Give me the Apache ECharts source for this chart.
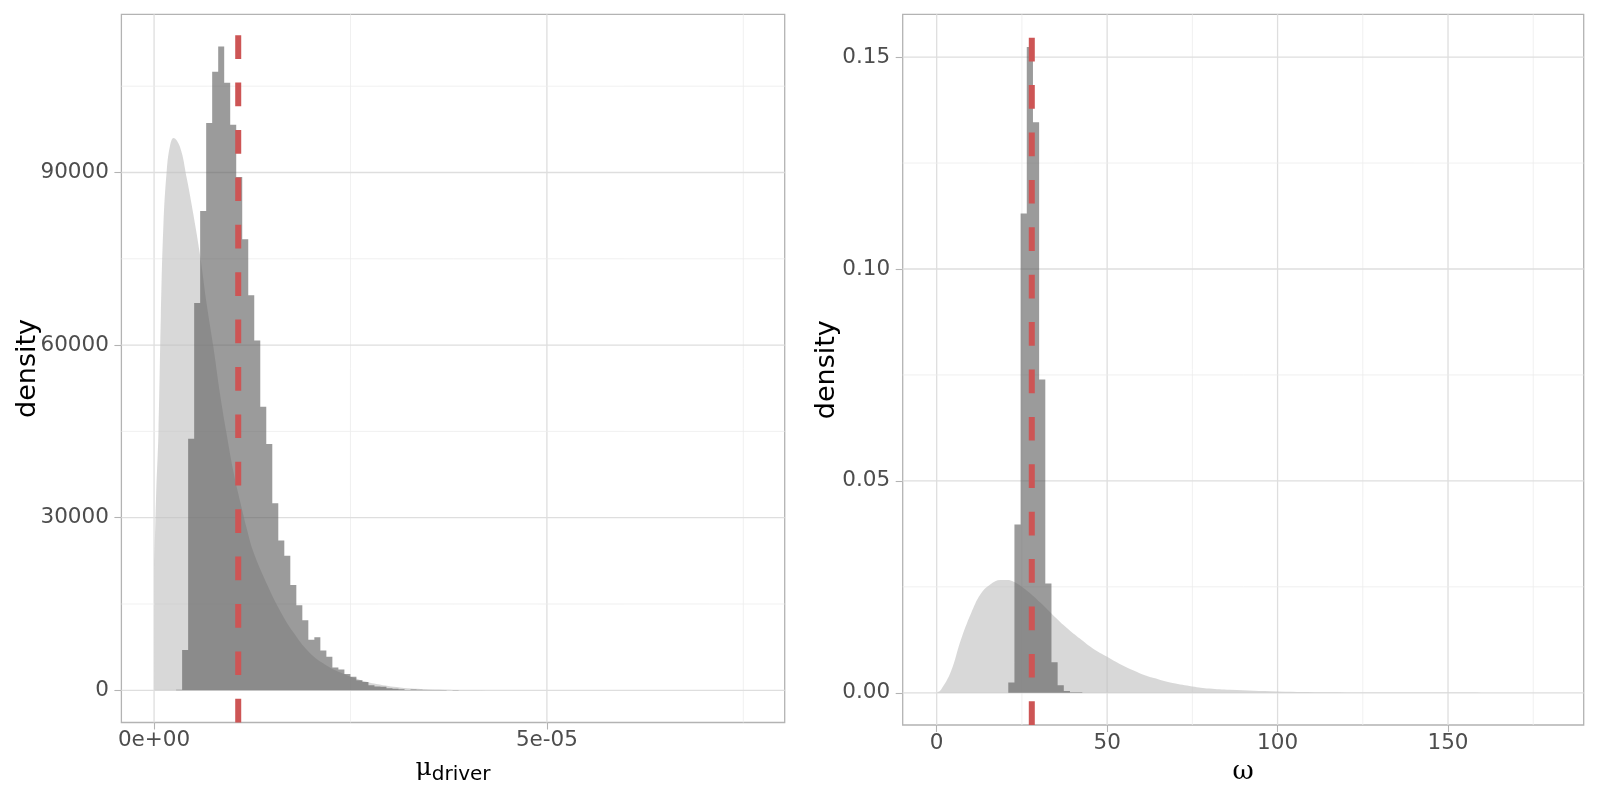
<!DOCTYPE html>
<html>
<head>
<meta charset="utf-8">
<title>posterior vs prior</title>
<script src="https://cdn.jsdelivr.net/npm/echarts@6/dist/echarts.min.js"></script>
<style>
  html, body { margin: 0; padding: 0; background: #fff; }
  #chart { width: 1600px; height: 800px; }
</style>
</head>
<body>
<div id="chart"></div>
<script>
// ---- data ----
// mu_driver: posterior histogram (density scale), regular bins
var muBinStart = 2.805e-6;
var muBinWidth = 0.765e-6;
var muHist = [100, 7000, 43700, 67300, 83300, 98600, 107500, 111900, 105600, 98300,
  89200, 78400, 68650, 60800, 49280, 42800, 32500, 26020, 23370, 18300,
  14800, 12180, 8800, 9200, 6930, 5820, 3950, 3600, 2830, 2370,
  1730, 1420, 890, 660, 610, 370, 250, 200, 70, 120,
  80, 60, 50, 30, 40, 20, 30, 10];
// mu_driver: prior density curve
var muPriorX = [0.04e-6, 0.26e-6, 0.56e-6, 0.86e-6, 1.19e-6, 1.61e-6, 2.01e-6, 2.47e-6, 3.31e-6, 4.16e-6,
  5.03e-6, 5.87e-6, 6.71e-6, 7.57e-6, 8.42e-6, 9.27e-6, 10.12e-6, 10.96e-6, 11.82e-6, 12.66e-6,
  14.42e-6, 15.97e-6, 17.66e-6, 19.74e-6, 21.95e-6, 24.03e-6, 26.23e-6, 28.31e-6, 31.3e-6, 34.94e-6,
  40.13e-6, 47.92e-6, 58.31e-6, 76.1e-6];
var muPriorY = [21600, 34000, 45000, 65000, 81000, 90300, 94500, 96000, 94400, 89000,
  82500, 75500, 67000, 59500, 51300, 44300, 37900, 32800, 28000, 24000,
  18300, 14000, 10200, 6600, 4300, 2900, 1800, 1100, 500, 200,
  60, 12, 3, 0];
var muTruth = 10.71e-6;
var muXMajor = [0, 5e-5];
var muXMinor = [2.5e-5, 7.5e-5];
var muYMajor = [0, 30000, 60000, 90000];
var muYMinor = [15000, 45000, 75000, 105000];

// omega: posterior histogram
var omegaBinStart = 21.0;
var omegaBinWidth = 1.81;
var omegaHist = [0.0024, 0.0397, 0.1131, 0.1524, 0.1346, 0.0739, 0.0258, 0.0072, 0.0018, 0.0004, 0.0001, 0.0001];
// omega: prior density curve
var omegaPriorX = [0, 1.26, 4.17, 7.1, 10.0, 12.9, 15.8, 18.7, 20.7, 22.6,
  26.5, 30.4, 34.3, 38.2, 42.0, 45.9, 50, 53.7, 57.6, 61.5,
  65.4, 69.2, 75, 80, 86, 100, 115, 135, 160, 180];
var omegaPriorY = [0, 0.0007, 0.0050, 0.0125, 0.0186, 0.0233, 0.0256, 0.0266, 0.0266, 0.0262,
  0.0241, 0.0213, 0.0182, 0.0153, 0.0128, 0.0104, 0.0085, 0.0068, 0.0053, 0.0040,
  0.0031, 0.0023, 0.0015, 0.0010, 0.0007, 0.0003, 0.00012, 0.00004, 0.00001, 0];
var omegaTruth = 27.9;
var omegaXMajor = [0, 50, 100, 150];
var omegaXMinor = [25, 75, 125, 175];
var omegaYMajor = [0, 0.05, 0.10, 0.15];
var omegaYMinor = [0.025, 0.075, 0.125];

// ---- helpers ----
var FONT = 'DejaVu Sans';
var TXT = '#4D4D4D';

function sci(v) {
  // R style: 0e+00, 5e-05
  var parts = v.toExponential(0).split('e');
  var e = parseInt(parts[1], 10);
  var s = e < 0 ? '-' : '+';
  var a = Math.abs(e);
  return parts[0] + 'e' + s + (a < 10 ? '0' + a : a);
}

function gridLines(idx, xMaj, xMin, yMaj, yMin) {
  var data = [];
  xMaj.forEach(function (v) { data.push([v, 0, 1]); });
  xMin.forEach(function (v) { data.push([v, 0, 0]); });
  yMaj.forEach(function (v) { data.push([v, 1, 1]); });
  yMin.forEach(function (v) { data.push([v, 1, 0]); });
  return {
    type: 'custom', xAxisIndex: idx, yAxisIndex: idx, z: 1, silent: true,
    data: data,
    renderItem: function (params, api) {
      var cs = params.coordSys;
      var v = api.value(0), dir = api.value(1), major = api.value(2);
      var shape;
      if (dir === 0) {
        var x = api.coord([v, 0])[0];
        shape = { x1: x, y1: cs.y, x2: x, y2: cs.y + cs.height };
      } else {
        var y = api.coord([0, v])[1];
        shape = { x1: cs.x, y1: y, x2: cs.x + cs.width, y2: y };
      }
      return {
        type: 'line', shape: shape,
        style: { stroke: major ? '#DEDEDE' : '#ECECEC', lineWidth: major ? 1.3 : 0.8 }
      };
    }
  };
}

function histogram(idx, start, width, vals) {
  return {
    type: 'custom', xAxisIndex: idx, yAxisIndex: idx, z: 3, silent: true,
    data: [[start, 0]],
    renderItem: function (params, api) {
      var pts = [api.coord([start, 0])];
      for (var i = 0; i < vals.length; i++) {
        pts.push(api.coord([start + i * width, vals[i]]));
        pts.push(api.coord([start + (i + 1) * width, vals[i]]));
      }
      pts.push(api.coord([start + vals.length * width, 0]));
      return {
        type: 'polygon', shape: { points: pts },
        style: { fill: 'rgba(89,89,89,0.6)' }
      };
    }
  };
}

function prior(idx, xs, ys) {
  return {
    type: 'line', xAxisIndex: idx, yAxisIndex: idx, z: 2, silent: true,
    data: xs.map(function (x, i) { return [x, ys[i]]; }),
    smooth: 0.4, symbol: 'none',
    lineStyle: { width: 0 },
    areaStyle: { color: 'rgba(190,190,190,0.6)', opacity: 1 }
  };
}

function truthLine(idx, v) {
  return {
    type: 'custom', xAxisIndex: idx, yAxisIndex: idx, z: 4, silent: true,
    data: [[v, 0]],
    renderItem: function (params, api) {
      var cs = params.coordSys;
      var x = api.coord([api.value(0), 0])[0];
      return {
        type: 'line',
        shape: { x1: x, y1: cs.y + cs.height, x2: x, y2: cs.y },
        style: { stroke: '#CD5555', lineWidth: 6, lineDash: [23.7, 23.7], lineCap: 'butt' }
      };
    }
  };
}

function xAxis(idx, min, max, ticks, fmt, name, rich, gap) {
  return {
    type: 'value', gridIndex: idx, min: min, max: max,
    axisLine: { show: false, onZero: false },
    splitLine: { show: false },
    axisTick: { show: true, length: 7, lineStyle: { color: '#B3B3B3', width: 1.1 }, customValues: ticks },
    axisLabel: { customValues: ticks, formatter: fmt, color: TXT, fontFamily: FONT, fontSize: 21.5, margin: 7 },
    name: name, nameLocation: 'middle', nameGap: gap,
    nameTextStyle: { color: '#000', fontFamily: FONT, rich: rich }
  };
}

function yAxis(idx, min, max, ticks, fmt, gap) {
  return {
    type: 'value', gridIndex: idx, min: min, max: max,
    axisLine: { show: false, onZero: false },
    splitLine: { show: false },
    axisTick: { show: true, length: 7, lineStyle: { color: '#B3B3B3', width: 1.1 }, customValues: ticks },
    axisLabel: { customValues: ticks, formatter: fmt, color: TXT, fontFamily: FONT, fontSize: 21.5, margin: 12.5 },
    name: 'density', nameLocation: 'middle', nameGap: gap, nameMoveOverlap: false,
    nameTextStyle: { color: '#000', fontFamily: FONT, fontSize: 27 }
  };
}

var chart = echarts.init(document.getElementById('chart'));
chart.setOption({
  animation: false,
  backgroundColor: '#fff',
  grid: [
    { left: 121.4, top: 14.3, width: 663.3, bottom: 77.5, show: true, borderColor: '#B3B3B3', borderWidth: 1.3 },
    { left: 902.7, top: 14.3, width: 681, bottom: 75, show: true, borderColor: '#B3B3B3', borderWidth: 1.3 }
  ],
  xAxis: [
    xAxis(0, -4.16e-6, 8.027e-5, muXMajor, function (v) { return sci(v); },
      '{m|\u03bc}{s|driver}',
      { m: { fontFamily: 'DejaVu Serif', fontSize: 25, lineHeight: 32, color: '#000' },
        s: { fontFamily: FONT, fontSize: 20, lineHeight: 18, verticalAlign: 'bottom', color: '#000' } },
      29),
    xAxis(1, -9.97, 189.8, omegaXMajor, function (v) { return String(v); },
      '{m|\u03c9}',
      { m: { fontFamily: 'DejaVu Serif', fontSize: 26, lineHeight: 30, color: '#000' } },
      29)
  ],
  yAxis: [
    yAxis(0, -5600, 117500, muYMajor, function (v) { return String(v); }, 80),
    yAxis(1, -0.0076, 0.1601, omegaYMajor, function (v) { return v.toFixed(2); }, 62.5)
  ],
  series: [
    gridLines(0, muXMajor, muXMinor, muYMajor, muYMinor),
    gridLines(1, omegaXMajor, omegaXMinor, omegaYMajor, omegaYMinor),
    prior(0, muPriorX, muPriorY),
    prior(1, omegaPriorX, omegaPriorY),
    histogram(0, muBinStart, muBinWidth, muHist),
    histogram(1, omegaBinStart, omegaBinWidth, omegaHist),
    truthLine(0, muTruth),
    truthLine(1, omegaTruth)
  ]
});
</script>
</body>
</html>
